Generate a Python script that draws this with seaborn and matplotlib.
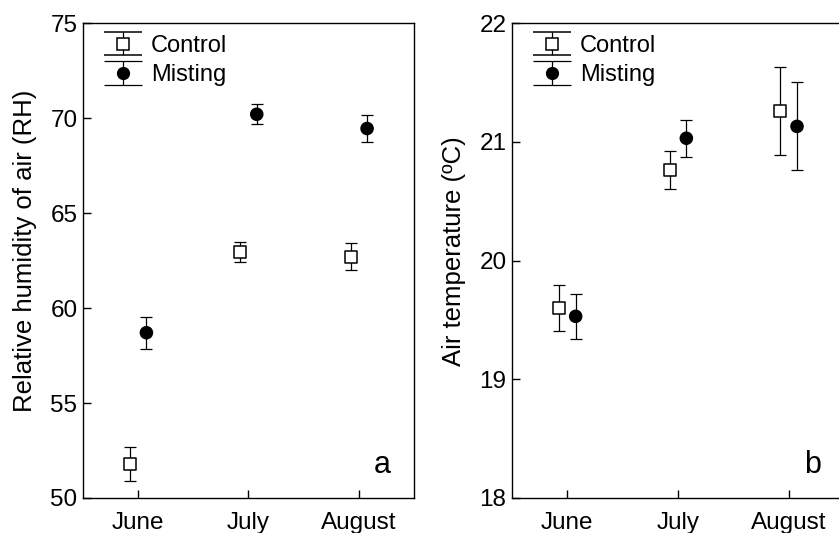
import numpy as np
import pandas as pd
import matplotlib
matplotlib.use("Agg")
import matplotlib.pyplot as plt
import seaborn as sns

# donnees
months = ["June", "July", "August"]
groups = ["Control", "Misting"]

rh_control = [51.8, 62.95, 62.7]
rh_control_err = [0.88, 0.52, 0.72]
rh_misting = [58.7, 70.2, 69.45]
rh_misting_err = [0.85, 0.52, 0.72]

temp_control = [19.6, 20.76, 21.26]
temp_control_err = [0.19, 0.16, 0.37]
temp_misting = [19.53, 21.03, 21.13]
temp_misting_err = [0.19, 0.155, 0.37]

sns.set_style("ticks")
plt.rcParams['font.family'] = ['Liberation Sans', 'DejaVu Sans']
plt.rcParams['text.color'] = 'black'
plt.rcParams['axes.labelcolor'] = 'black'
plt.rcParams['xtick.color'] = 'black'
plt.rcParams['ytick.color'] = 'black'

fig = plt.figure(figsize=(8.39, 5.33), dpi=100)
axA = fig.add_axes([0.0989, 0.0657, 0.3945, 0.891])
axB = fig.add_axes([0.6103, 0.0657, 0.3957, 0.891])

x = np.arange(1, len(months) + 1)
off = 0.075

def panel(ax, ctl, ctl_err, mis, mis_err, ylim, yticks, ylabel, letter):
    '''dessine un panneau avec les deux traitements'''
    df = pd.DataFrame({
        "x": np.concatenate([x - off, x + off]),
        "y": ctl + mis,
        "err": ctl_err + mis_err,
        "group": np.repeat(groups, len(months)),
    })
    for g, sub in df.groupby("group"):
        ax.errorbar(sub["x"], sub["y"], yerr=sub["err"], fmt="none",
                    ecolor="black", elinewidth=0.9, capsize=4.3, capthick=0.9, zorder=2)
    sns.scatterplot(data=df, x="x", y="y", hue="group", style="group",
                    markers={"Control": "s", "Misting": "o"},
                    palette={"Control": "white", "Misting": "black"},
                    edgecolor="black", linewidth=1.1, s=75, legend=False, ax=ax, zorder=3)
    # poignées de légende (barres d'erreur)
    h1 = ax.errorbar([np.nan], [np.nan], yerr=[1], fmt="s", mfc="white", mec="black",
                     mew=1.1, ms=8.5, ecolor="black", elinewidth=0.9, capsize=14, capthick=0.9)
    h2 = ax.errorbar([np.nan], [np.nan], yerr=[1], fmt="o", mfc="black", mec="black",
                     ms=8.5, ecolor="black", elinewidth=0.9, capsize=14, capthick=0.9)
    ax.legend([h1, h2], groups, loc="upper left", frameon=False, fontsize=17,
              handlelength=1.8, handletextpad=0.3, labelspacing=0.3,
              borderaxespad=0.1, bbox_to_anchor=(0.02, 1.0))
    ax.set_xlim(0.5, 3.5)
    ax.set_ylim(*ylim)
    ax.set_xticks(x)
    ax.set_xticklabels(months)
    ax.set_yticks(yticks)
    ax.set_xlabel("")
    ax.set_ylabel(ylabel, fontsize=18.5)
    ax.yaxis.set_label_coords(-0.14, 0.52)
    ax.tick_params(direction="in", length=6, width=1, labelsize=17.5, pad=4)
    ax.tick_params(axis="x", pad=10)
    for s in ax.spines.values():
        s.set_visible(True)
        s.set_linewidth(1)
        s.set_color("black")
    ax.text(0.905, 0.07, letter, transform=ax.transAxes, fontsize=22,
            ha="center", va="center")

panel(axA, rh_control, rh_control_err, rh_misting, rh_misting_err,
      (50, 75), [50, 55, 60, 65, 70, 75], "Relative humidity of air (RH)", "a")
panel(axB, temp_control, temp_control_err, temp_misting, temp_misting_err,
      (18, 22), [18, 19, 20, 21, 22], "Air temperature (ºC)", "b")

fig.savefig("out.png", dpi=100)
